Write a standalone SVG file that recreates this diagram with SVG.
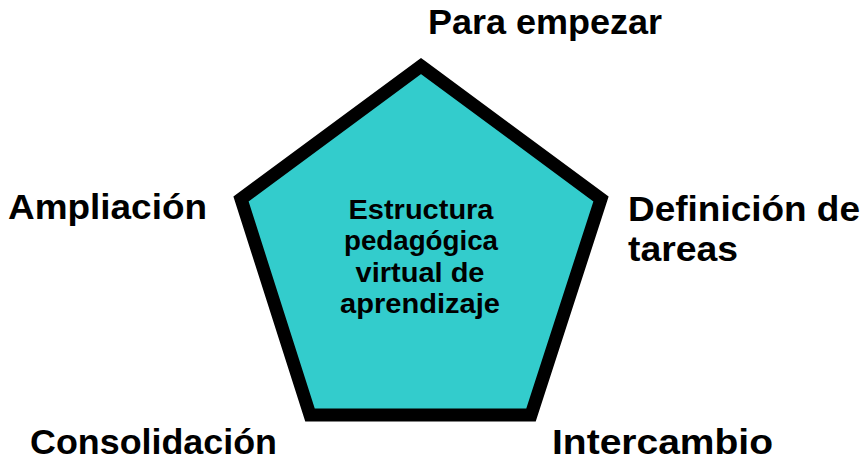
<svg xmlns="http://www.w3.org/2000/svg" width="868" height="463" viewBox="0 0 868 463">
<style>
.lbl{font-family:"Liberation Sans",Arial,sans-serif;font-weight:bold;font-size:35px;fill:#000}
.ctr{font-family:"Liberation Sans",Arial,sans-serif;font-weight:bold;font-size:28px;fill:#000;text-anchor:middle}
</style>
<rect width="868" height="463" fill="#fff"/>
<g id="pentagon">
<polygon points="421,66 601,199 531,415 310,415 241,199" fill="#33CCCC" stroke="#000" stroke-width="13" stroke-linejoin="miter"/>
<text class="ctr" x="421" y="219" textLength="145" lengthAdjust="spacingAndGlyphs">Estructura</text>
<text class="ctr" x="421" y="250" textLength="154" lengthAdjust="spacingAndGlyphs">pedagógica</text>
<text class="ctr" x="420" y="282" textLength="129" lengthAdjust="spacingAndGlyphs">virtual de</text>
<text class="ctr" x="420" y="313" textLength="160" lengthAdjust="spacingAndGlyphs">aprendizaje</text>
</g>
<g id="para-empezar"><text class="lbl" x="428" y="34" textLength="234" lengthAdjust="spacingAndGlyphs">Para empezar</text></g>
<g id="ampliacion"><text class="lbl" x="8" y="219" textLength="199" lengthAdjust="spacingAndGlyphs">Ampliación</text></g>
<g id="definicion"><text class="lbl" x="628" y="221" textLength="232" lengthAdjust="spacingAndGlyphs">Definición de</text>
<text class="lbl" x="628" y="261" textLength="110" lengthAdjust="spacingAndGlyphs">tareas</text></g>
<g id="consolidacion"><text class="lbl" x="30" y="454" textLength="247" lengthAdjust="spacingAndGlyphs">Consolidación</text></g>
<g id="intercambio"><text class="lbl" x="552" y="454" textLength="221" lengthAdjust="spacingAndGlyphs">Intercambio</text></g>
<g id="connectors"/>
</svg>
